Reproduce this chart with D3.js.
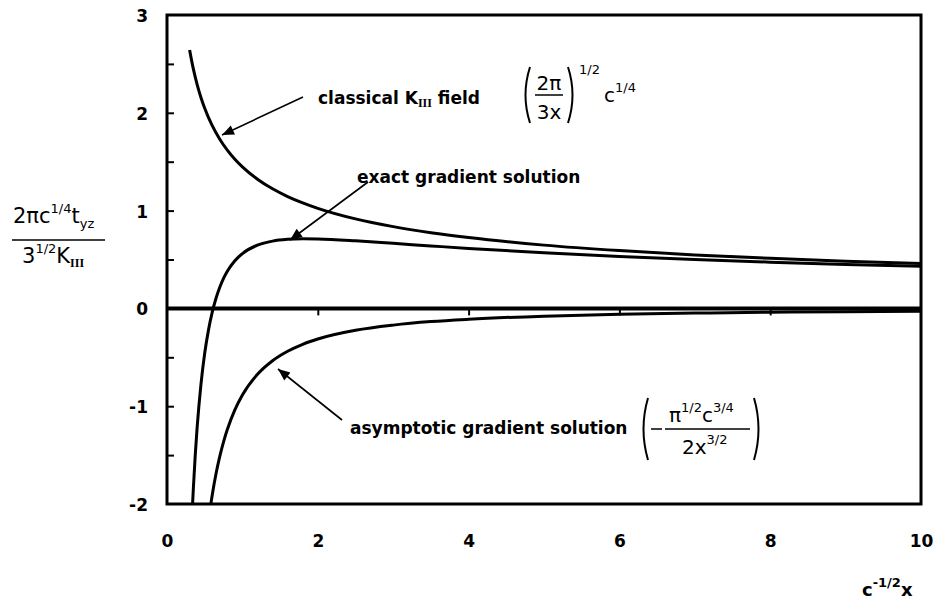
<!DOCTYPE html>
<html>
<head>
<meta charset="utf-8">
<script src="https://cdn.jsdelivr.net/npm/d3@7"></script>
<style>
  html, body { margin: 0; padding: 0; background: #fff; }
  svg { display: block; }
  .lbl { font-family: "DejaVu Sans", sans-serif; font-weight: bold; fill: #000; }
  .math { font-family: "DejaVu Sans", sans-serif; fill: #000; }
  .rom { font-family: "Liberation Serif", serif; font-weight: bold; }
</style>
</head>
<body>
<script>
// Axis ranges and tick labels
const xDomain = [0, 10];
const yDomain = [-2, 3];
const xTickLabels = [0, 2, 4, 6, 8, 10];
const xMinorTicks = [2, 4, 6, 8];
const yTickLabels = [-2, -1, 0, 1, 2, 3];
const yMinorTicks = [-1.5, -1, -0.5, 0.5, 1, 1.5, 2, 2.5];

// Classical K_III field
const classicalX = [0.3, 0.35, 0.4, 0.45, 0.5, 0.6, 0.7, 0.8, 0.9, 1.0, 1.2, 1.4, 1.6, 1.8, 2.0, 2.5, 3, 3.5, 4, 5, 6, 7, 8, 9, 10];
const classicalY = [2.642, 2.446, 2.288, 2.157, 2.047, 1.868, 1.730, 1.618, 1.525, 1.447, 1.321, 1.223, 1.144, 1.079, 1.023, 0.915, 0.836, 0.774, 0.724, 0.647, 0.591, 0.547, 0.512, 0.482, 0.458];

// Exact gradient solution
const exactX = [0.33, 0.34, 0.35, 0.375, 0.4, 0.45, 0.5, 0.55, 0.6, 0.65, 0.7, 0.75, 0.8, 0.9, 1.0, 1.2, 1.4, 1.6, 1.8, 2.0, 2.5, 3, 3.5, 4, 5, 6, 7, 8, 9, 10];
const exactY = [-2.156, -1.988, -1.834, -1.496, -1.215, -0.779, -0.459, -0.222, -0.039, 0.104, 0.217, 0.307, 0.379, 0.487, 0.561, 0.647, 0.688, 0.706, 0.712, 0.710, 0.691, 0.665, 0.639, 0.613, 0.568, 0.531, 0.499, 0.473, 0.449, 0.430];

// Asymptotic gradient solution
const asymX = [0.55, 0.58, 0.6, 0.65, 0.7, 0.75, 0.8, 0.9, 1.0, 1.2, 1.4, 1.6, 1.8, 2.0, 2.5, 3, 3.5, 4, 5, 6, 7, 8, 9, 10];
const asymY = [-2.173, -2.006, -1.907, -1.691, -1.513, -1.364, -1.239, -1.038, -0.886, -0.674, -0.535, -0.438, -0.367, -0.313, -0.224, -0.171, -0.135, -0.111, -0.079, -0.060, -0.048, -0.039, -0.033, -0.028];

const W = 935, H = 600;
const plot = { left: 167, right: 921, top: 15, bottom: 504 };

const svg = d3.select("body").append("svg").attr("width", W).attr("height", H);

const x = d3.scaleLinear().domain(xDomain).range([plot.left, plot.right]);
const y = d3.scaleLinear().domain(yDomain).range([plot.bottom, plot.top]);

const defs = svg.append("defs");
defs.append("clipPath").attr("id", "plotClip")
  .append("rect")
  .attr("x", plot.left).attr("y", plot.top)
  .attr("width", plot.right - plot.left).attr("height", plot.bottom - plot.top);

const marker = defs.append("marker")
  .attr("id", "arrowHead")
  .attr("viewBox", "0 0 12 10")
  .attr("refX", 12).attr("refY", 5)
  .attr("markerUnits", "userSpaceOnUse")
  .attr("markerWidth", 14).attr("markerHeight", 10)
  .attr("orient", "auto");
marker.append("path").attr("d", "M0,0 L12,5 L0,10 Z").attr("fill", "#000");

// Plain hyphen for negative tick labels
const plainNum = d => String(d);

// Minor ticks on the left frame, pointing inward
svg.append("g")
  .attr("transform", `translate(${plot.left},0)`)
  .call(d3.axisRight(y).tickValues(yMinorTicks).tickSize(7).tickFormat(""))
  .call(g => g.select(".domain").remove())
  .call(g => g.selectAll("line").attr("stroke", "#000").attr("stroke-width", 2));

// Y tick labels
svg.append("g")
  .attr("transform", `translate(${plot.left},0)`)
  .call(d3.axisLeft(y).tickValues(yTickLabels).tickSize(0).tickPadding(19).tickFormat(plainNum))
  .call(g => g.select(".domain").remove())
  .call(g => g.selectAll("text").attr("class", "lbl").style("font-size", "17px").attr("dy", "0.38em"));

// Zero line with ticks below it
svg.append("g")
  .attr("transform", `translate(0,${y(0)})`)
  .call(d3.axisBottom(x).tickValues(xMinorTicks).tickSize(7).tickFormat(""))
  .call(g => g.select(".domain").remove())
  .call(g => g.selectAll("line").attr("stroke", "#000").attr("stroke-width", 2));
svg.append("line")
  .attr("x1", plot.left).attr("x2", plot.right)
  .attr("y1", y(0)).attr("y2", y(0))
  .attr("stroke", "#000").attr("stroke-width", 4);

// X tick labels
svg.append("g")
  .attr("transform", `translate(0,${plot.bottom})`)
  .call(d3.axisBottom(x).tickValues(xTickLabels).tickSize(0).tickPadding(31).tickFormat(plainNum))
  .call(g => g.select(".domain").remove())
  .call(g => g.selectAll("text").attr("class", "lbl").style("font-size", "17px"));

// Frame
svg.append("rect")
  .attr("x", plot.left).attr("y", plot.top)
  .attr("width", plot.right - plot.left).attr("height", plot.bottom - plot.top)
  .attr("fill", "none").attr("stroke", "#000").attr("stroke-width", 3);

// Curves
const line = d3.line().x(d => x(d[0])).y(d => y(d[1])).curve(d3.curveMonotoneX);
const curves = [
  d3.zip(classicalX, classicalY),
  d3.zip(exactX, exactY),
  d3.zip(asymX, asymY)
];
svg.append("g").attr("clip-path", "url(#plotClip)")
  .selectAll("path").data(curves).join("path")
  .attr("d", line)
  .attr("fill", "none").attr("stroke", "#000").attr("stroke-width", 3);

// Arrows
const arrows = [
  [303, 97, 222, 135],
  [368, 182, 290, 240],
  [342, 420, 278, 369]
];
svg.append("g").selectAll("line").data(arrows).join("line")
  .attr("x1", d => d[0]).attr("y1", d => d[1])
  .attr("x2", d => d[2]).attr("y2", d => d[3])
  .attr("stroke", "#000").attr("stroke-width", 1.6)
  .attr("marker-end", "url(#arrowHead)");

// Curve labels
const t1 = svg.append("text").attr("class", "lbl").attr("x", 318).attr("y", 104).style("font-size", "17px");
t1.append("tspan").text("classical K");
t1.append("tspan").attr("class", "rom").attr("dy", 3).style("font-size", "12px").text("III");
t1.append("tspan").attr("dy", -3).text(" field");

svg.append("text").attr("class", "lbl").attr("x", 357).attr("y", 183).style("font-size", "17px")
  .text("exact gradient solution");
svg.append("text").attr("class", "lbl").attr("x", 350).attr("y", 434).style("font-size", "17px")
  .text("asymptotic gradient solution");

// Parenthesis helper
function paren(cx, y0, y1, dir) {
  const bulge = 9 * dir;
  return `M${cx},${y0} Q${cx - bulge},${(y0 + y1) / 2} ${cx},${y1}`;
}

// Formula: (2π / 3x)^{1/2} c^{1/4}
const f1 = svg.append("g");
f1.append("path").attr("d", paren(530, 67, 123, 1)).attr("fill", "none").attr("stroke", "#000").attr("stroke-width", 2);
f1.append("path").attr("d", paren(568, 67, 123, -1)).attr("fill", "none").attr("stroke", "#000").attr("stroke-width", 2);
f1.append("text").attr("class", "math").attr("x", 549).attr("y", 90).attr("text-anchor", "middle").style("font-size", "20px").text("2π");
f1.append("line").attr("x1", 535).attr("x2", 563).attr("y1", 95).attr("y2", 95).attr("stroke", "#000").attr("stroke-width", 1.5);
f1.append("text").attr("class", "math").attr("x", 549).attr("y", 119).attr("text-anchor", "middle").style("font-size", "20px").text("3x");
f1.append("text").attr("class", "math").attr("x", 579).attr("y", 74).style("font-size", "13px").text("1/2");
const c1 = f1.append("text").attr("class", "math").attr("x", 604).attr("y", 102).style("font-size", "20px");
c1.append("tspan").text("c");
c1.append("tspan").attr("dy", -10).style("font-size", "13px").text("1/4");

// Formula: (−π^{1/2} c^{3/4} / 2x^{3/2})
const f2 = svg.append("g");
f2.append("path").attr("d", paren(648, 398, 460, 1)).attr("fill", "none").attr("stroke", "#000").attr("stroke-width", 2);
f2.append("path").attr("d", paren(754, 398, 460, -1)).attr("fill", "none").attr("stroke", "#000").attr("stroke-width", 2);
f2.append("line").attr("x1", 651).attr("x2", 662).attr("y1", 429).attr("y2", 429).attr("stroke", "#000").attr("stroke-width", 1.5);
f2.append("line").attr("x1", 665).attr("x2", 750).attr("y1", 429).attr("y2", 429).attr("stroke", "#000").attr("stroke-width", 1.5);
const n2 = f2.append("text").attr("class", "math").attr("x", 669).attr("y", 422).style("font-size", "20px");
n2.append("tspan").text("π");
n2.append("tspan").attr("dy", -10).style("font-size", "13px").text("1/2");
n2.append("tspan").attr("dy", 10).text("c");
n2.append("tspan").attr("dy", -10).style("font-size", "13px").text("3/4");
const d2 = f2.append("text").attr("class", "math").attr("x", 682).attr("y", 454).style("font-size", "20px");
d2.append("tspan").text("2x");
d2.append("tspan").attr("dy", -10).style("font-size", "13px").text("3/2");

// X axis title: c^{-1/2} x
const xt = svg.append("text").attr("class", "lbl").attr("x", 862).attr("y", 596).style("font-size", "18px");
xt.append("tspan").text("c");
xt.append("tspan").attr("dy", -9).style("font-size", "13px").text("-1/2");
xt.append("tspan").attr("dy", 9).text("x");

// Y axis title: 2πc^{1/4} t_{yz} / 3^{1/2} K_III
const yt = svg.append("g");
const num = yt.append("text").attr("class", "math").attr("x", 13).attr("y", 223).style("font-size", "21px");
num.append("tspan").text("2πc");
num.append("tspan").attr("dy", -10).style("font-size", "13px").text("1/4");
num.append("tspan").attr("dy", 10).text("t");
num.append("tspan").attr("dy", 5).style("font-size", "13px").text("yz");
yt.append("line").attr("x1", 12).attr("x2", 105).attr("y1", 240).attr("y2", 240).attr("stroke", "#000").attr("stroke-width", 1.5);
const den = yt.append("text").attr("class", "math").attr("x", 22).attr("y", 263).style("font-size", "21px");
den.append("tspan").text("3");
den.append("tspan").attr("dy", -10).style("font-size", "13px").text("1/2");
den.append("tspan").attr("dy", 10).text("K");
den.append("tspan").attr("class", "rom").attr("dy", 4).style("font-size", "12px").text("III");
</script>
</body>
</html>
